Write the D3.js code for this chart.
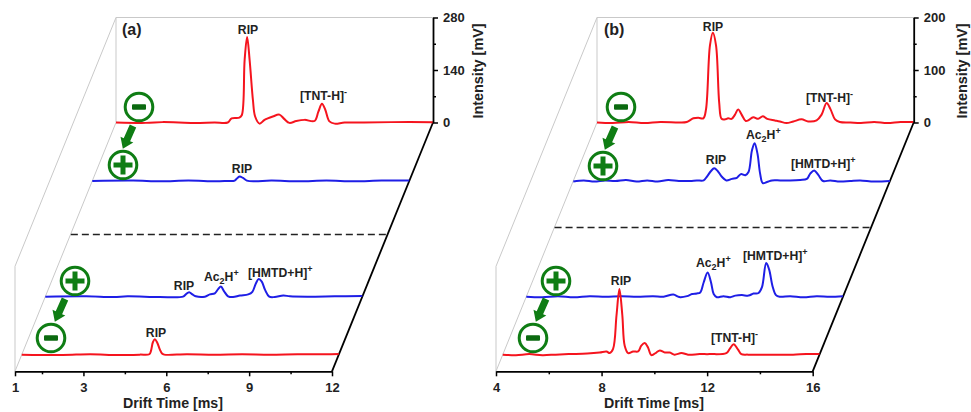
<!DOCTYPE html>
<html>
<head>
<meta charset="utf-8">
<script src="https://cdnjs.cloudflare.com/ajax/libs/d3/7.8.5/d3.min.js"></script>
<style>
body { margin: 0; background: #fff; }
text { font-family: "Liberation Sans", Arial, sans-serif; font-weight: bold; fill: #222; }
</style>
</head>
<body>
<svg id="chart" width="971" height="412"></svg>
<script>
// drift time [ms], intensity [mV]
const aTop = [[1,0],[1.6,-1],[2.2,1],[2.8,0],[3.4,-1],[4.09,0],[4.57,0],[4.71,11],[4.99,13],[5.08,20],[5.18,167],[5.27,228],[5.36,167],[5.48,60],[5.56,16],[5.72,-3],[5.9,7],[6.2,16],[6.44,21],[6.62,9],[6.8,-1],[7.05,4],[7.35,7],[7.71,4],[7.85,29],[7.98,50],[8.1,34],[8.25,3],[8.44,-3],[8.8,0],[9.5,0],[10.5,1],[12,1]]
const aBlue1 = [[1,0],[2,1],[3,-1],[4,1],[5,-1],[5.4,0],[5.68,1],[5.78,8],[5.86,12],[5.98,8],[6.12,1],[6.4,-1],[7,1],[8,-1],[9,1],[10,-1],[11,1],[12,1]]
const aBlue2 = [[1,0],[2,1],[3,-1],[3.5,1],[4.67,-1],[5.51,0],[5.61,6],[5.73,12],[5.85,6],[5.97,1],[6.3,0],[6.48,6],[6.66,9],[6.78,20],[6.88,27],[6.99,15],[7.14,1],[7.32,-1],[7.57,3],[7.87,6],[8.02,13],[8.15,36],[8.25,47],[8.36,40],[8.48,18],[8.63,0],[8.83,-1],[9.14,3],[9.38,1],[10,0],[11,1],[12,2]]
const aBottom = [[1,0],[2,-1],[3,1],[4,-1],[4.8,0],[5.14,1],[5.2,10],[5.27,33],[5.34,41],[5.42,33],[5.52,14],[5.6,3],[5.68,0],[6.5,1],[7.5,0],[8.5,1],[9.5,0],[10.5,1],[11.5,1],[12,2]]

const bTop = [[4,0],[4.6,-1],[5.2,1],[5.8,-1],[6.4,1],[7.14,0],[7.4,1],[7.65,8],[7.84,9],[8.03,8],[8.13,25],[8.28,147],[8.39,171],[8.51,147],[8.63,38],[8.72,7],[8.85,6],[8.97,8],[9.1,7],[9.23,15],[9.35,25],[9.48,15],[9.63,3],[9.73,4],[9.92,10],[10.11,7],[10.28,12],[10.45,7],[10.74,4],[10.93,2],[11.18,-1],[11.44,2],[11.75,6],[12,2],[12.32,4],[12.51,15],[12.7,37],[12.85,25],[13.02,6],[13.2,1],[13.6,0],[14,-1],[14.5,1],[15,-1],[15.5,1],[16,1]]
const bBlue1 = [[4,-1],[4.4,1],[4.8,-1],[5.2,1],[5.6,0],[6,2],[6.4,-1],[6.8,1],[7.2,-1],[7.6,2],[8,0],[8.43,0],[8.68,1],[8.94,1],[9.06,8],[9.22,19],[9.34,24],[9.47,19],[9.63,8],[9.8,1],[10.01,4],[10.2,6],[10.35,13],[10.52,11],[10.64,17],[10.77,58],[10.87,72],[10.98,52],[11.08,14],[11.18,-4],[11.34,-2],[11.53,1],[11.84,1],[12.22,1],[12.6,2],[12.85,4],[12.98,14],[13.13,20],[13.29,11],[13.46,0],[13.74,1],[14.1,-1],[14.49,0],[14.87,1],[15.4,-1],[16,0]]
const bBlue2 = [[4,0],[4.6,-1],[5.2,1],[5.8,-1],[6.4,1],[7,0],[7.6,1],[8.2,0],[8.8,1],[9.2,0],[9.57,4],[9.75,0],[9.83,-1],[10.09,1],[10.28,5],[10.46,6],[10.59,8],[10.72,27],[10.87,46],[11,27],[11.1,5],[11.22,-1],[11.47,1],[11.73,-1],[11.92,2],[12.17,3],[12.42,2],[12.61,6],[12.8,7],[12.93,18],[13.09,64],[13.2,52],[13.33,20],[13.46,3],[13.6,0],[14,1],[14.5,-1],[15,1],[15.5,0],[16,1]]
const bBottom = [[4,0],[4.5,-1],[5,1],[5.5,-1],[6,0],[6.5,1],[7.2,2],[7.67,4],[7.93,6],[8.05,3],[8.18,11],[8.31,75],[8.42,125],[8.53,75],[8.62,17],[8.75,3],[8.94,6],[9.13,6],[9.25,17],[9.38,22],[9.5,14],[9.63,-1],[9.82,4],[9.95,8],[10.14,4],[10.33,4],[10.51,0],[10.77,3],[11.02,0],[11.46,1],[11.84,1],[12.47,3],[12.6,11],[12.75,20],[12.91,10],[13.04,1],[13.29,0],[14.11,0],[15,0],[15.5,1],[16,1]]

const aXTicks = [1, 1.5, 3, 4.5, 6, 7.5, 9, 10.5, 12]
const aXLabels = [1, 3, 6, 9, 12]
const bXTicks = [4, 6, 8, 10, 12, 14, 16]
const bXLabels = [4, 8, 12, 16]
const aYTicks = [0, 70, 140, 210, 280]
const aYLabels = [0, 140, 280]
const bYTicks = [0, 50, 100, 150, 200]
const bYLabels = [0, 100, 200]

const red = "#f5141e"
const blue = "#1e1ee6"
const green = "#0f7d14"
const gray = "#c9c9c9"

const svg = d3.select("#chart")

// rich label: plain parts, {sub: ..} and {sup: ..}
function label(g, x, y, parts, anchor) {
    const t = g.append("text").attr("x", x).attr("y", y)
        .attr("text-anchor", anchor || "start").style("font-size", "12.2px")
    let shift = 0
    parts.forEach(p => {
        if (typeof p === "string") {
            t.append("tspan").attr("dy", -shift).text(p)
            shift = 0
        } else {
            const d = p.sub ? 3 : -5.5
            t.append("tspan").attr("dy", d - shift).style("font-size", "9px").text(p.sub || p.sup)
            shift = d
        }
    })
}

function sign(g, cx, cy, plus) {
    g.append("circle").attr("cx", cx).attr("cy", cy).attr("r", 13.8)
        .attr("fill", "#fff").attr("fill-opacity", 0.85).attr("stroke", green).attr("stroke-width", 3)
    if (plus) {
        g.append("rect").attr("x", cx - 9.5).attr("y", cy - 2.5).attr("width", 19).attr("height", 5)
            .attr("fill", green)
        g.append("rect").attr("x", cx - 2.5).attr("y", cy - 9.5).attr("width", 5).attr("height", 19)
            .attr("fill", green)
    } else {
        g.append("rect").attr("x", cx - 7).attr("y", cy - 2.8).attr("width", 14).attr("height", 5.6)
            .attr("rx", 1).attr("fill", "#0b6a10")
    }
}

function arrow(g, x, y) {
    g.append("path").attr("transform", `translate(${x},${y}) rotate(24)`)
        .attr("d", "M-3.5,0 L3.5,0 L3.5,15 L7,15 L0,25 L-7,15 L-3.5,15 Z")
        .attr("fill", green)
}

function panel(p) {
    const g = svg.append("g")
    const x = d3.scaleLinear().domain(p.xDomain).range(p.xRange)
    const y = d3.scaleLinear().domain(p.yDomain).range([122.5, 17.5])
    // depth axis of the waterfall: 0 = back wall, 1 = front edge
    const zx = d3.scaleLinear().domain([0, 1]).range([101, 0])
    const zy = d3.scaleLinear().domain([0, 1]).range([0, 248.8])

    const x0 = x.range()[0]
    const x1 = x.range()[x.range().length - 1]
    const wall = [
        [x0 + zx(0), y.range()[1], x1 + zx(0), y.range()[1]],
        [x0 + zx(0), y.range()[1], x0 + zx(0), y.range()[0]],
        [x0 + zx(0), y.range()[1], x0, y.range()[1] + zy(1)],
        [x0 + zx(0), y.range()[0], x0, y.range()[0] + zy(1)],
        [x0, y.range()[1] + zy(1), x0, y.range()[0] + zy(1)]
    ]
    g.selectAll("line.wall").data(wall).join("line").attr("class", "wall")
        .attr("x1", d => d[0]).attr("y1", d => d[1]).attr("x2", d => d[2]).attr("y2", d => d[3])
        .attr("stroke", gray).attr("stroke-width", 1)

    // slanted edge
    g.append("line")
        .attr("x1", x1 + zx(0)).attr("y1", y.range()[0])
        .attr("x2", x1).attr("y2", y.range()[0] + zy(1))
        .attr("stroke", "#000").attr("stroke-width", 1.8)

    // dashed divider
    const dashY = Math.round(y(0) + zy(p.dashZ)) + 0.5
    g.append("line")
        .attr("x1", x0 + zx(p.dashZ)).attr("x2", x1 + zx(p.dashZ))
        .attr("y1", dashY).attr("y2", dashY)
        .attr("stroke", "#222").attr("stroke-width", 1.4).attr("stroke-dasharray", "7 4")

    p.traces.forEach(tr => {
        const line = d3.line()
            .x(d => x(d[0]) + zx(tr.z))
            .y(d => y(d[1]) + zy(tr.z))
            .curve(d3.curveCatmullRom.alpha(0.5))
        g.append("path").datum(tr.values).attr("d", line)
            .attr("fill", "none").attr("stroke", tr.color).attr("stroke-width", 2)
    })

    const xAxis = d3.axisBottom(x).tickValues(p.xTicks).tickSizeOuter(0)
        .tickFormat(d => p.xLabels.includes(d) ? d : "")
    const gx = g.append("g").attr("transform", `translate(0,${y.range()[0] + zy(1)})`).call(xAxis)
    const yAxis = d3.axisRight(y).tickValues(p.yTicks).tickSizeOuter(0)
        .tickFormat(d => p.yLabels.includes(d) ? d : "")
    const gy = g.append("g").attr("transform", `translate(${x1 + zx(0)},0)`).call(yAxis)

    gx.selectAll(".tick line").attr("y2", d => p.xLabels.includes(d) ? 5 : 3)
    gx.selectAll(".tick text").attr("y", 11).style("font-size", "13px")
    gy.selectAll(".tick line").attr("x2", d => p.yLabels.includes(d) ? 5 : 3)
    gy.selectAll(".tick text").attr("x", 10).style("font-size", "13px")
    ;[gx, gy].forEach(a => {
        a.select(".domain").attr("stroke", "#000").attr("stroke-width", 1.8)
        a.selectAll(".tick line").attr("stroke", "#000").attr("stroke-width", 1.5)
    })

    g.append("text").attr("x", p.titleX).attr("y", 408).attr("text-anchor", "middle")
        .style("font-size", "14.2px").text("Drift Time [ms]")
    g.append("text").attr("transform", `translate(${p.yTitleX},71) rotate(-90)`).attr("text-anchor", "middle")
        .style("font-size", "14.4px").text("Intensity [mV]")
    g.append("text").attr("x", p.tagX).attr("y", 35).style("font-size", "16px").text(p.tag)

    p.labels.forEach(l => label(g, l[0], l[1], l[2], l[3]))
    p.signs.forEach(s => sign(g, s[0], s[1], s[2]))
    p.arrows.forEach(a => arrow(g, a[0], a[1]))
}

panel({
    tag: "(a)", tagX: 122, titleX: 173, yTitleX: 483,
    xDomain: [1, 1.5, 12], xRange: [15, 42, 332], yDomain: [0, 280],
    xTicks: aXTicks, xLabels: aXLabels, yTicks: aYTicks, yLabels: aYLabels,
    dashZ: 0.447,
    traces: [
        { values: aTop, z: 0, color: red },
        { values: aBlue1, z: 0.235, color: blue },
        { values: aBlue2, z: 0.7, color: blue },
        { values: aBottom, z: 0.933, color: red }
    ],
    labels: [
        [248, 34, ["RIP"], "middle"],
        [300, 100, ["[TNT-H]", { sup: "-" }]],
        [242, 173, ["RIP"], "middle"],
        [184, 290, ["RIP"], "middle"],
        [204, 281, ["Ac", { sub: "2" }, "H", { sup: "+" }]],
        [248, 277, ["[HMTD+H]", { sup: "+" }]],
        [156, 337, ["RIP"], "middle"]
    ],
    signs: [[139, 107, false], [123, 165, true], [75, 281, true], [51, 338, false]],
    arrows: [[133, 126], [65, 299]]
})

panel({
    tag: "(b)", tagX: 604, titleX: 654, yTitleX: 967,
    xDomain: [4, 16], xRange: [496, 812.7], yDomain: [0, 200],
    xTicks: bXTicks, xLabels: bXLabels, yTicks: bYTicks, yLabels: bYLabels,
    dashZ: 0.42,
    traces: [
        { values: bTop, z: 0, color: red },
        { values: bBlue1, z: 0.235, color: blue },
        { values: bBlue2, z: 0.7, color: blue },
        { values: bBottom, z: 0.933, color: red }
    ],
    labels: [
        [713, 31, ["RIP"], "middle"],
        [806, 102, ["[TNT-H]", { sup: "-" }]],
        [746, 139, ["Ac", { sub: "2" }, "H", { sup: "+" }]],
        [716, 164, ["RIP"], "middle"],
        [791, 168, ["[HMTD+H]", { sup: "+" }]],
        [696, 267, ["Ac", { sub: "2" }, "H", { sup: "+" }]],
        [743, 260, ["[HMTD+H]", { sup: "+" }]],
        [621, 285, ["RIP"], "middle"],
        [711, 342, ["[TNT-H]", { sup: "-" }]]
    ],
    signs: [[621, 107, false], [603, 166, true], [556, 281, true], [533, 338, false]],
    arrows: [[615, 127], [546, 299]]
})
</script>
</body>
</html>
